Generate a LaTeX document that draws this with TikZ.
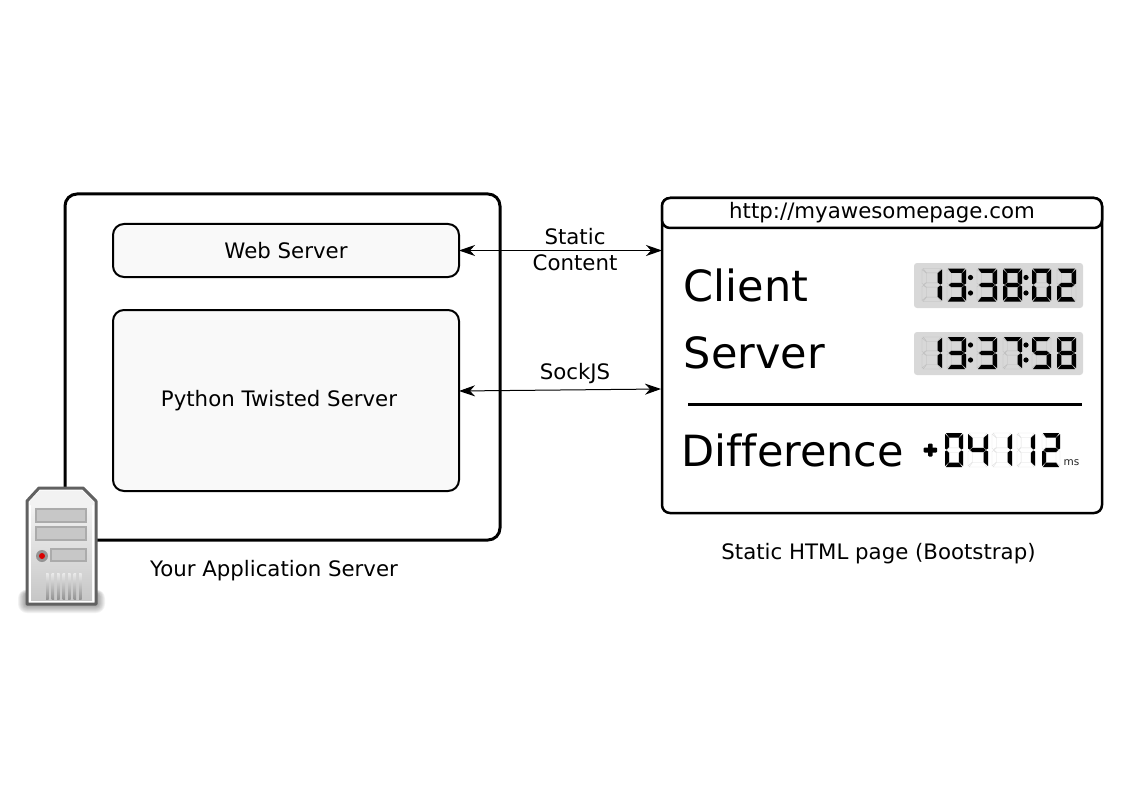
\documentclass[tikz,border=0pt]{standalone}
\usepackage{fontspec}
\setmainfont{DejaVu Sans}[Ligatures=NoCommon]
\usetikzlibrary{arrows.meta}
\definecolor{boxfill}{HTML}{F9F9F9}
\definecolor{lcdbg}{HTML}{D8D8D8}
\tikzset{
  x=1pt,y=-1pt,
  panel/.style={draw=black,rectangle,inner sep=0pt,outer sep=0pt,line join=round},
  txt/.style={inner sep=0pt,font=\fontsize{21.3}{26.5}\selectfont,align=center},
  big/.style={inner sep=0pt,anchor=west,font=\fontsize{43}{50}\selectfont},
  link/.style={line width=1pt,{Stealth[length=16pt,width=11pt,inset=5pt]}-{Stealth[length=16pt,width=11pt,inset=5pt]}},
  lcdon/.style={fill=black},
  lcdoff/.style={draw=black!26,line width=.4pt},
  lcdfaint/.style={draw=black!13,line width=.4pt},
}
\newcommand\sega[1]{\path[#1] (1,0)--(19,0)--(15.5,4.5)--(4.5,4.5)--cycle;}
\newcommand\segd[1]{\path[#1] (1,34)--(19,34)--(15.5,29.5)--(4.5,29.5)--cycle;}
\newcommand\segg[1]{\path[#1] (2,17)--(4.5,14.8)--(15.5,14.8)--(18,17)--(15.5,19.2)--(4.5,19.2)--cycle;}
\newcommand\segf[1]{\path[#1] (0,1)--(4.5,5)--(4.5,14.2)--(1.6,16.5)--(0,15.5)--cycle;}
\newcommand\segb[1]{\path[#1] (20,1)--(15.5,5)--(15.5,14.2)--(18.4,16.5)--(20,15.5)--cycle;}
\newcommand\sege[1]{\path[#1] (0,33)--(4.5,29)--(4.5,19.8)--(1.6,17.5)--(0,18.5)--cycle;}
\newcommand\segc[1]{\path[#1] (20,33)--(15.5,29)--(15.5,19.8)--(18.4,17.5)--(20,18.5)--cycle;}
% \lcd{x}{y}{width}{height}{off style}{lit segments}
\newcommand\lcd[6]{%
  \edef\lcdlist{#6}%
  \begin{scope}[shift={(#1,#2)},xscale=#3/20,yscale=#4/34]
    \foreach \sg in {a,b,c,d,e,f,g}{\csname seg\sg\endcsname{#5}}
    \foreach \sg in \lcdlist {\csname seg\sg\endcsname{lcdon}}
  \end{scope}}
\begin{document}
\begin{tikzpicture}
\useasboundingbox (0,0) rectangle (1123,794);
% application server
\node[panel,line width=3pt,rounded corners=12pt,minimum width=435pt,minimum height=346pt] (app) at (282.5,367) {};
\node[panel,line width=2pt,rounded corners=11pt,fill=boxfill,minimum width=346pt,minimum height=53pt,txt] (web) at (286,250.5) {Web Server};
\node[panel,line width=2pt,rounded corners=11pt,fill=boxfill,minimum width=346pt,minimum height=181pt] (py) at (286,400.5) {};
\node[txt] (pylabel) at (279,401) {Python Twisted Server};
\node[txt] (applabel) at (274,570.5) {Your Application Server};
% browser page
\node[panel,line width=2.5pt,rounded corners=8pt,minimum width=440pt,minimum height=315pt] (page) at (882,355.5) {};
\node[panel,line width=2.5pt,rounded corners=8pt,fill=white,minimum width=440pt,minimum height=30pt,txt] (url) at (882,213) {http://myawesomepage.com};
\node[txt] (pagelabel) at (878.5,554) {Static HTML page (Bootstrap)};
\node[big] (client) at (683.5,285.5) {Client};
\node[big] (server) at (683.5,353) {Server};
\node[big] (diff) at (681.5,450) {Difference};
\coordinate (ruleL) at (688,404.5);
\coordinate (ruleR) at (1082,404.5);
\draw[line width=3pt] (ruleL) -- (ruleR);
% links
\coordinate (pageA) at (page.west |- web.east);
\coordinate (pyS) at (459,391);
\coordinate (pageS) at (661,389);
\draw[link] (web.east) -- (pageA);
\draw[link] (pyS) -- (pageS);
\node[txt] (static) at (575,249.5) {Static\\Content};
\node[txt] (sock) at (575,374) {SockJS};
% clocks
\fill[lcdbg,rounded corners=3pt] (914,263) rectangle (1083,308);
\fill[lcdbg,rounded corners=3pt] (914,332) rectangle (1083,375);
\foreach \x/\w/\s in {922/20/{b,c},947/19/{a,b,g,c,d},977/20/{a,b,g,c,d},1003/19/{a,b,c,d,e,f,g},1032/19/{a,b,c,d,e,f},1057/19/{a,b,g,e,d}}
  {\lcd{\x}{268.5}{\w}{33}{lcdoff}{\s}}
\foreach \x/\w/\s in {922/20/{b,c},947/19/{a,b,g,c,d},977/20/{a,b,g,c,d},1003/19/{a,b,c},1032/19/{a,f,g,c,d},1057/19/{a,b,c,d,e,f,g}}
  {\lcd{\x}{337}{\w}{32}{lcdoff}{\s}}
\foreach \x/\y in {970.5/277.5,970.5/293,1026/277.5,1026/293,970.5/345,970.5/360,1026/345,1026/360}
  {\fill (\x,\y) circle (2.6pt);}
% difference readout
\foreach \x/\w/\s in {945/18/{a,b,c,d,e,f},968/20/{f,g,b,c},992/20/{b,c},1017/18/{b,c},1042/18/{a,b,g,e,d}}
  {\lcd{\x}{433}{\w}{34}{lcdfaint}{\s}}
\fill[rounded corners=1pt] (928,443.5) rectangle (932.5,456.5);
\fill[rounded corners=1pt] (923.5,447.5) rectangle (937,452.5);
\node[inner sep=0pt,font=\fontsize{10.5}{12}\selectfont,text=black!85] (ms) at (1071.5,462.5) {ms};
% server icon
\foreach \o in {9,8,7,6,5,4,3,2,1}
  {\fill[black,opacity=.05,rounded corners=\o pt] (27-\o,594-\o/2) rectangle (96+\o,604+\o);}
\path[fill=white,draw=black!62,line width=3pt,line join=round]
  (39,488)--(83,488)--(96,501)--(96,604)--(27,604)--(27,501)--cycle;
\fill[black!5] (40,490.5)--(82,490.5)--(93.5,501.5)--(93.5,505)--(29.5,505)--(29.5,501.5)--cycle;
\shade[top color=black!5,bottom color=black!22] (31,505) rectangle (92,600);
\foreach \yA/\yB/\xA in {508/523/36,526/541/36,548/562/51}
  {\path[fill=black!22,draw=black!33,line width=2pt] (\xA,\yA+1) rectangle (86,\yB-1);}
\fill[black!42] (42,556) circle (6pt);
\fill[red!85!black] (42,556) circle (3pt);
\foreach \x in {46,51.5,57,62.5,68,73.5,79}
  {\shade[top color=black!8,bottom color=black!42] (\x,573) rectangle (\x+2.5,599);}
\end{tikzpicture}
\end{document}
